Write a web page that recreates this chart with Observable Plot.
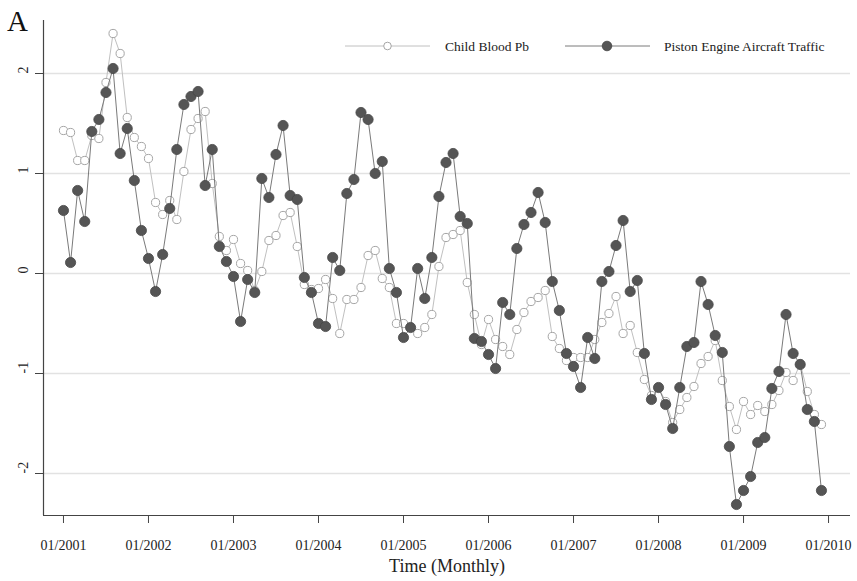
<!DOCTYPE html>
<html>
<head>
<meta charset="utf-8">
<script src="https://cdn.jsdelivr.net/npm/d3@7"></script>
<script src="https://cdn.jsdelivr.net/npm/@observablehq/plot@0.6"></script>
<style>
  html, body { margin: 0; padding: 0; background: white; }
  #chart { width: 857px; height: 581px; }
</style>
</head>
<body>
<div id="chart"></div>
<script>
// Monthly series, 01/2001 .. 12/2009 (standardized values)
const childPb = [
  1.43, 1.41, 1.13, 1.13, 1.38, 1.35, 1.91, 2.40, 2.20, 1.56, 1.36, 1.27,
  1.15, 0.71, 0.59, 0.73, 0.54, 1.02, 1.44, 1.55, 1.62, 0.90, 0.37, 0.23,
  0.34, 0.10, 0.03, -0.17, 0.02, 0.33, 0.38, 0.58, 0.61, 0.27, -0.11, -0.16,
  -0.15, -0.06, -0.25, -0.60, -0.26, -0.26, -0.14, 0.18, 0.23, -0.05, -0.14, -0.50,
  -0.50, -0.54, -0.60, -0.54, -0.41, 0.07, 0.36, 0.39, 0.43, -0.09, -0.41, -0.71,
  -0.46, -0.66, -0.73, -0.81, -0.56, -0.39, -0.28, -0.24, -0.17, -0.63, -0.75, -0.87,
  -0.84, -0.84, -0.84, -0.66, -0.49, -0.40, -0.23, -0.60, -0.52, -0.79, -1.06, -1.22,
  -1.14, -1.28, -1.49, -1.36, -1.24, -1.13, -0.90, -0.83, -0.67, -1.07, -1.33, -1.56,
  -1.28, -1.41, -1.32, -1.38, -1.31, -1.17, -0.99, -1.07, -0.90, -1.18, -1.41, -1.51
];
const aircraft = [
  0.63, 0.11, 0.83, 0.52, 1.42, 1.54, 1.81, 2.05, 1.20, 1.45, 0.93, 0.43,
  0.15, -0.18, 0.19, 0.65, 1.24, 1.69, 1.77, 1.82, 0.88, 1.24, 0.27, 0.12,
  -0.03, -0.48, -0.06, -0.19, 0.95, 0.76, 1.19, 1.48, 0.78, 0.74, -0.04, -0.19,
  -0.50, -0.53, 0.16, 0.03, 0.80, 0.94, 1.61, 1.54, 1.00, 1.12, 0.05, -0.19,
  -0.64, -0.54, 0.05, -0.25, 0.16, 0.77, 1.11, 1.20, 0.57, 0.50, -0.65, -0.68,
  -0.81, -0.95, -0.29, -0.41, 0.25, 0.49, 0.61, 0.81, 0.51, -0.08, -0.37, -0.80,
  -0.93, -1.14, -0.64, -0.85, -0.08, 0.02, 0.28, 0.53, -0.18, -0.07, -0.80, -1.26,
  -1.14, -1.31, -1.55, -1.14, -0.73, -0.69, -0.08, -0.31, -0.62, -0.79, -1.73, -2.31,
  -2.17, -2.03, -1.69, -1.64, -1.15, -0.98, -0.41, -0.80, -0.91, -1.36, -1.48, -2.17
];
const xTickLabels = ["01/2001","01/2002","01/2003","01/2004","01/2005","01/2006","01/2007","01/2008","01/2009","01/2010"];
const yTicks = [-2, -1, 0, 1, 2];
const seriesNames = ["Child Blood Pb", "Piston Engine Aircraft Traffic"];
const titleText = "A";
const xLabel = "Time (Monthly)";

const xTickPos = xTickLabels.map((_, i) => i * 12);
const childData = childPb.map((v, i) => ({t: i, v}));
const airData = aircraft.map((v, i) => ({t: i, v}));

const FONT = "'Liberation Serif', 'Times New Roman', serif";
const xMin = -2.82, xMax = 111.1, yMin = -2.42, yMax = 2.53;

const chart = Plot.plot({
  width: 857,
  height: 581,
  marginLeft: 43,
  marginRight: 7,
  marginTop: 20,
  marginBottom: 66,
  style: {fontFamily: FONT, background: "white", color: "#222"},
  x: {domain: [xMin, xMax]},
  y: {domain: [yMin, yMax]},
  marks: [
    Plot.gridY(yTicks, {stroke: "#e2e2e2", strokeOpacity: 1, strokeWidth: 1.3}),
    Plot.ruleX([xMin], {stroke: "#444", strokeWidth: 1.2}),
    Plot.ruleY([yMin], {stroke: "#444", strokeWidth: 1.2}),
    Plot.axisX(xTickPos, {tickFormat: d => xTickLabels[Math.round(d / 12)], tickSize: 8, tickPadding: 17, fontSize: 14, stroke: "#444", label: null, fill: "#222"}),
    Plot.axisY(yTicks, {tickSize: 8, text: null, label: null, stroke: "#444"}),
    Plot.text(yTicks, {y: d => d, text: d => String(d), frameAnchor: "left", dx: -20, rotate: -90, fontSize: 14, fill: "#222"}),
    Plot.text([xLabel], {frameAnchor: "bottom", dy: 56, fontSize: 18, fill: "#222"}),
    Plot.line(childData, {x: "t", y: "v", stroke: "#c0c0c0", strokeWidth: 1}),
    Plot.dot(childData, {x: "t", y: "v", r: 4.1, stroke: "#a5a5a5", fill: "white", strokeWidth: 1}),
    Plot.line(airData, {x: "t", y: "v", stroke: "#7a7a7a", strokeWidth: 1}),
    Plot.dot(airData, {x: "t", y: "v", r: 5.1, fill: "#555", stroke: "#454545", strokeWidth: 0.8})
  ]
});

const svg = d3.select(chart);
svg.append("text").attr("x", 7).attr("y", 31).attr("text-anchor", "start")
  .attr("font-family", FONT).attr("font-size", 29).attr("fill", "#111").text(titleText);

const lg = svg.append("g").attr("font-family", FONT).attr("font-size", 13.5).attr("fill", "#222").attr("text-anchor", "start");
// legend entry 1
lg.append("line").attr("x1", 345).attr("x2", 430).attr("y1", 46).attr("y2", 46).attr("stroke", "#c0c0c0");
lg.append("circle").attr("cx", 387.5).attr("cy", 46).attr("r", 3.8).attr("fill", "white").attr("stroke", "#a5a5a5");
lg.append("text").attr("x", 445).attr("y", 50.5).text(seriesNames[0]);
// legend entry 2
lg.append("line").attr("x1", 565).attr("x2", 650).attr("y1", 46).attr("y2", 46).attr("stroke", "#7a7a7a");
lg.append("circle").attr("cx", 607).attr("cy", 46).attr("r", 4.8).attr("fill", "#555").attr("stroke", "#454545").attr("stroke-width", 0.8);
lg.append("text").attr("x", 664).attr("y", 50.5).text(seriesNames[1]);

document.getElementById("chart").appendChild(chart);
</script>
</body>
</html>
